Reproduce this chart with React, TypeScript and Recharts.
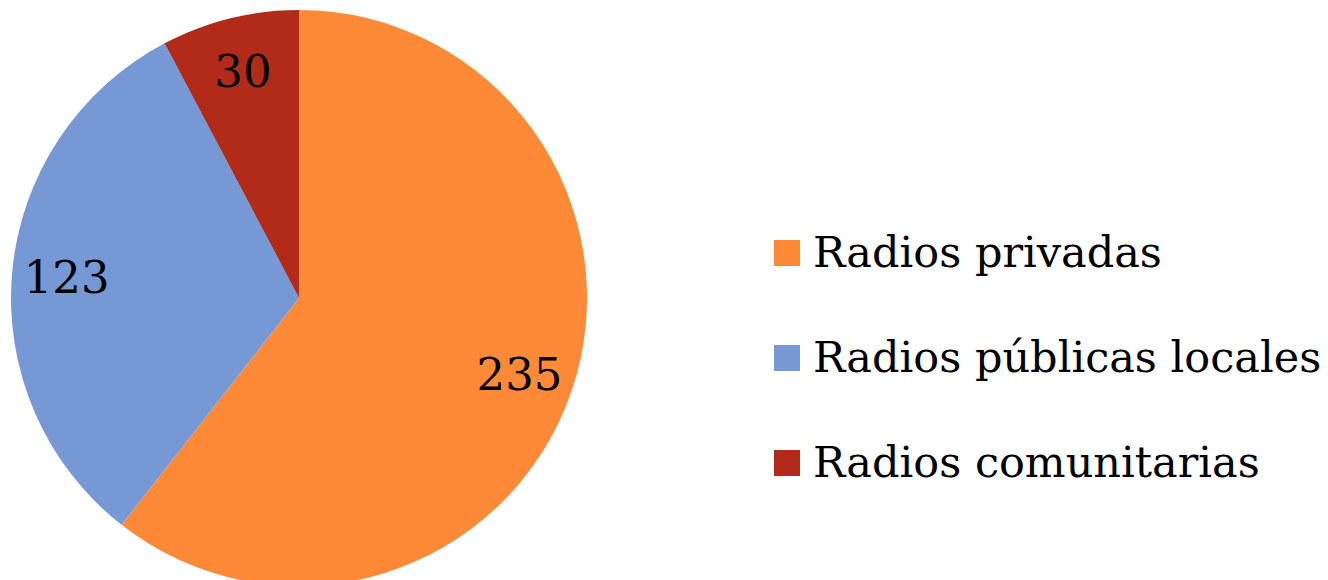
import React from 'react';
import { PieChart, Pie, Cell, Legend } from 'recharts';

const categories = ['Radios privadas', 'Radios públicas locales', 'Radios comunitarias'];
const values = [235, 123, 30];
const colors = ['#FE8A38', '#7699D6', '#B12B18'];

const data = categories.map((name, i) => ({ name, value: values[i] }));

const FONT = '"DejaVu Serif", "Liberation Serif", serif';
const RAD = Math.PI / 180;

const renderLabel = (props: any) => {
  const { cx, cy, midAngle, outerRadius, value } = props;
  const r = outerRadius * 0.81;
  const x = cx + r * Math.cos(-midAngle * RAD);
  const y = cy + r * Math.sin(-midAngle * RAD);
  return (
    <text x={x} y={y} textAnchor="middle" dominantBaseline="central" fill="#000" fontSize={45} fontFamily={FONT}>
      {value}
    </text>
  );
};

const renderLegend = () => (
  <div style={{ fontFamily: FONT }}>
    {data.map((d, i) => (
      <div key={d.name} style={{ height: 105, display: 'flex', alignItems: 'center' }}>
        <span style={{ width: 26, height: 26, background: colors[i], display: 'inline-block', marginRight: 13 }} />
        <span style={{ fontSize: 43, lineHeight: 1, color: '#000', whiteSpace: 'nowrap' }}>{d.name}</span>
      </div>
    ))}
  </div>
);

export default function App() {
  return (
    <div>
      <style>{`body{margin:0}`}</style>
      <PieChart width={1328} height={580} margin={{ top: 0, right: 0, bottom: 0, left: 0 }}>
        <Pie
          data={data}
          dataKey="value"
          nameKey="name"
          cx={299}
          cy={298}
          outerRadius={288}
          startAngle={90}
          endAngle={-270}
          stroke="none"
          label={renderLabel}
          labelLine={false}
          isAnimationActive={false}
        >
          {data.map((d, i) => (
            <Cell key={d.name} fill={colors[i]} />
          ))}
        </Pie>
        <Legend
          content={renderLegend}
          wrapperStyle={{ left: 774, top: 200, width: 554 }}
        />
      </PieChart>
    </div>
  );
}
